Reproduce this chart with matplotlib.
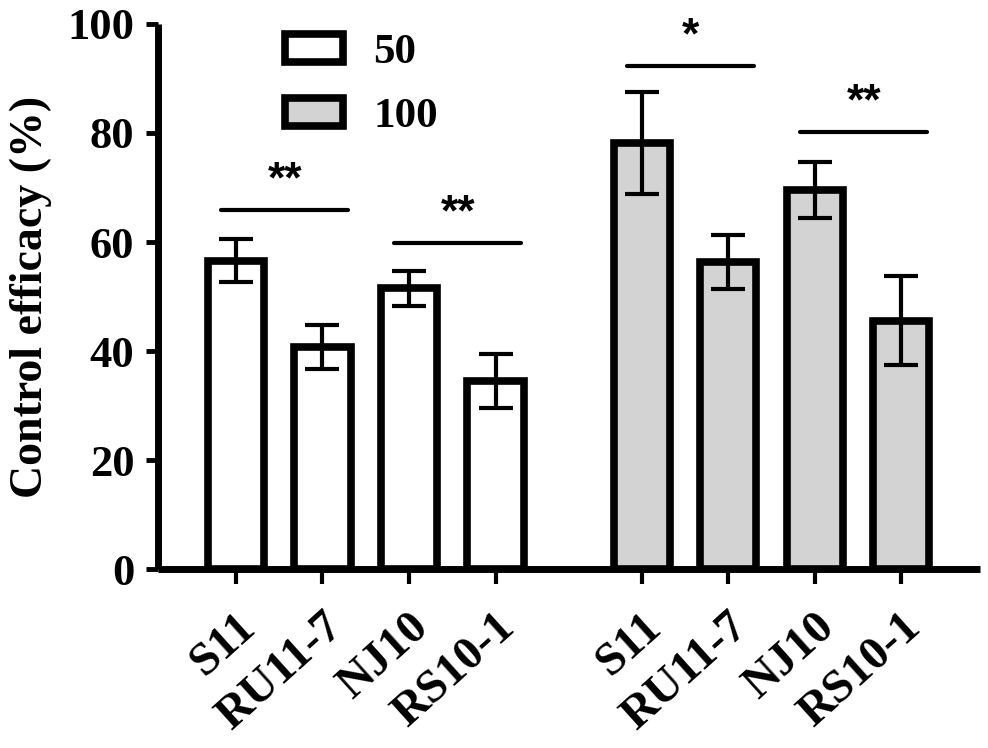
import numpy as np
import matplotlib.pyplot as plt
from matplotlib.patches import Patch
from matplotlib.transforms import ScaledTranslation

strains = ["S11", "RU11-7", "NJ10", "RS10-1"]
means_50 = [56.6, 40.8, 51.5, 34.5]
err_50 = [4.0, 4.0, 3.2, 5.0]
means_100 = [78.2, 56.3, 69.6, 45.6]
err_100 = [9.4, 5.0, 5.1, 8.1]
doses = ["50", "100"]

# significance bars: (first bar index, level, stars)
sig_marks = [(0, 65.9, "**"), (2, 59.8, "**"), (4, 92.2, "*"), (6, 80.2, "**")]

GREY = "#d3d3d3"
plt.rcParams["font.family"] = ["Liberation Serif", "DejaVu Serif"]
plt.rcParams["font.weight"] = "bold"
plt.rcParams["axes.labelweight"] = "bold"

fig = plt.figure(figsize=(9.88, 7.48), dpi=100)
ax = fig.add_axes([0.16, 0.239, 0.832, 0.729])

gap = 1.69
x1 = np.arange(4)
x2 = np.arange(4) + 3 + gap
xs = np.concatenate([x1, x2])

bw = 0.65
ax.bar(x1, means_50, width=bw, color="white", edgecolor="black", linewidth=5.5, zorder=2)
ax.bar(x2, means_100, width=bw, color=GREY, edgecolor="black", linewidth=5.5, zorder=2)
ax.errorbar(x1, means_50, yerr=err_50, fmt="none", ecolor="black", elinewidth=3,
            capsize=12.5, capthick=3, zorder=3)
ax.errorbar(x2, means_100, yerr=err_100, fmt="none", ecolor="black", elinewidth=3,
            capsize=12.5, capthick=3, zorder=3)

for i, level, stars in sig_marks:
    a = xs[i] - 0.17
    b = xs[i + 1] + 0.3
    ax.plot([a, b], [level, level], color="black", lw=3, solid_capstyle="round", zorder=3)
    ax.text((a + b) / 2, level + 1.6, stars, ha="center", va="bottom", fontsize=32,
            family="Liberation Sans", fontweight="bold")

ax.set_xlim(-0.9, 8.6)
ax.set_ylim(0, 100)
ax.set_yticks([0, 20, 40, 60, 80, 100])
ax.tick_params(axis="y", labelsize=32, length=9, width=3.5, pad=8)
ax.tick_params(axis="x", length=11, width=3)
ax.set_xticks(xs)
ax.set_xticklabels([])
for s in ["top", "right"]:
    ax.spines[s].set_visible(False)
for s in ["left", "bottom"]:
    ax.spines[s].set_linewidth(5)
    ax.spines[s].set_capstyle("butt")

offset = ScaledTranslation(0.14, -0.52, fig.dpi_scale_trans)
for x, lab in zip(xs, strains + strains):
    ax.text(x, 0, lab, transform=ax.get_xaxis_transform() + offset, rotation=42,
            rotation_mode="anchor", ha="right", va="center", fontsize=34)

ax.set_ylabel("Control efficacy (%)", fontsize=33, labelpad=11)

handles = [Patch(facecolor="white", edgecolor="black", linewidth=5.5),
           Patch(facecolor=GREY, edgecolor="black", linewidth=5.5)]
ax.legend(handles, doses, loc="upper left", bbox_to_anchor=(285 / 988, 1 - 34 / 748),
          bbox_transform=fig.transFigure, frameon=False, fontsize=31,
          handlelength=1.35, handleheight=0.62, handletextpad=0.7, labelspacing=0.6,
          borderpad=0, borderaxespad=0)

fig.savefig("out.png", dpi=100)
